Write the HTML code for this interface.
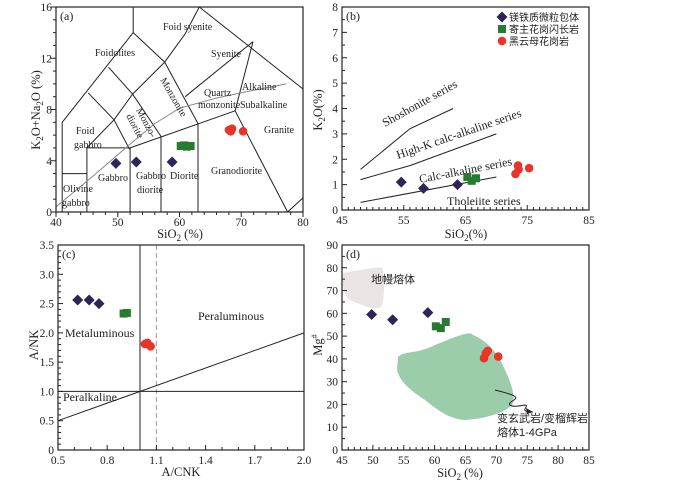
<!DOCTYPE html>
<html><head><meta charset="utf-8">
<style>
html,body{margin:0;padding:0;background:#fff;}
svg{display:block;font-family:"Liberation Serif","Noto Serif CJK SC",serif;}
.cn{font-family:"Liberation Sans","Noto Sans CJK SC",sans-serif;}
</style></head>
<body>
<svg id="fig" width="700" height="485" viewBox="0 0 700 485" xmlns="http://www.w3.org/2000/svg"></svg>
<script>
// ---------- data ----------
const enclaveA_x=[49.7,53,58.8], enclaveA_y=[3.8,3.9,3.9];
const hostA_x=[60.2,60.8,61.2,61.8], hostA_y=[5.15,5.2,5.1,5.15];
const graniteA_x=[68,68.5,68.3,70.3], graniteA_y=[6.4,6.5,6.3,6.3];

const enclaveB_x=[54.6,58.2,63.7], enclaveB_y=[1.1,0.85,1.0];
const hostB_x=[65.3,66,66.7], hostB_y=[1.3,1.15,1.25];
const graniteB_x=[73.1,73.5,73.6,75.3], graniteB_y=[1.42,1.75,1.6,1.65];

const enclaveC_x=[0.62,0.69,0.75], enclaveC_y=[2.56,2.56,2.5];
const hostC_x=[0.9,0.92], hostC_y=[2.33,2.34];
const graniteC_x=[1.03,1.045,1.065], graniteC_y=[1.81,1.83,1.77];

const enclaveD_x=[49.8,53.2,58.9], enclaveD_y=[59.5,57.2,60.3];
const hostD_x=[60.2,61,61.8], hostD_y=[54.3,53.5,56.2];
const graniteD_x=[68,68.3,68.6,70.3], graniteD_y=[40.3,42.5,43.5,41];

const ticksA_x=[40,50,60,70,80], ticksA_y=[0,4,8,12,16];
const ticksB_x=[45,55,65,75,85], ticksB_y=[0,1,2,3,4,5,6,7,8];
const ticksC_x=[0.5,0.8,1.1,1.4,1.7,2.0], ticksC_y=[0,0.5,1.0,1.5,2.0,2.5,3.0,3.5];
const ticksD_x=[45,50,55,60,65,70,75,80,85], ticksD_y=[0,10,20,30,40,50,60,70,80,90];

// ---------- helpers ----------
const NS="http://www.w3.org/2000/svg";
const svg=document.getElementById('fig');
function mk(tag,attrs,parent){const e=document.createElementNS(NS,tag);for(const k in attrs)e.setAttribute(k,attrs[k]);(parent||svg).appendChild(e);return e;}
function axis(x0,x1,px0,px1,y0,y1,py0,py1){return{X:v=>px0+(v-x0)/(x1-x0)*(px1-px0),Y:v=>py0+(v-y0)/(y1-y0)*(py1-py0)};}
function line(ax,pts,stroke,dash){const d=pts.map((p,i)=>(i?'L':'M')+ax.X(p[0]).toFixed(1)+' '+ax.Y(p[1]).toFixed(1)).join(' ');const e=mk('path',{d:d,fill:'none',stroke:stroke||'#222','stroke-width':1,'stroke-dasharray':dash||'none'});return e;}
function text(x,y,s,size,anchor,cls,rot){const e=mk('text',{x:x,y:y,'font-size':size||12,'text-anchor':anchor||'start',fill:'#222'});if(cls)e.setAttribute('class',cls);if(rot!==undefined)e.setAttribute('transform','rotate('+rot+' '+x+' '+y+')');e.innerHTML=s;return e;}
function diamond(x,y){const e=mk('path',{d:`M${x} ${y-5.5}L${x+5.5} ${y}L${x} ${y+5.5}L${x-5.5} ${y}Z`,fill:'#2e2458'});}
function square(x,y){const e=mk('rect',{x:x-4,y:y-4,width:8,height:8,fill:'#277a32'});}
function circ(x,y){const e=mk('circle',{cx:x,cy:y,r:4.3,fill:'#e8352a'});}
function series(ax,ex,ey,hx,hy,gx,gy){ex.forEach((v,i)=>diamond(ax.X(v),ax.Y(ey[i])));hx.forEach((v,i)=>square(ax.X(v),ax.Y(hy[i])));gx.forEach((v,i)=>circ(ax.X(v),ax.Y(gy[i])));}
function frame(px0,py0,px1,py1){const e=mk('rect',{x:px0,y:py0,width:px1-px0,height:py1-py0,fill:'none',stroke:'#222','stroke-width':1.2});}
function ticks(ax,xt,yt,xmin,ymin,xstep,ystep,xr,yr,dir,xfmt,yfmt){
 const bx=ax.Y(yr[0]), lx=ax.X(xr[0]);
 for(let v=xr[0];v<=xr[1]+1e-9;v+=xstep){const major=xt.some(t=>Math.abs(t-v)<1e-6);const len=major?5:3;mk('line',{x1:ax.X(v),x2:ax.X(v),y1:bx,y2:bx+dir*len,stroke:'#222'});}
 for(let v=yr[0];v<=yr[1]+1e-9;v+=ystep){const major=yt.some(t=>Math.abs(t-v)<1e-6);const len=major?5:3;mk('line',{x1:lx,x2:lx-dir*len,y1:ax.Y(v),y2:ax.Y(v),stroke:'#222'});}
 xt.forEach(v=>{const t=text(ax.X(v),bx+14,xfmt(v),11.5,'middle');});
 yt.forEach(v=>{const t=text(lx-4,ax.Y(v)+4,yfmt(v),11.5,'end');});
}

// ---------- Panel (a) TAS ----------
const A=axis(40,80,56,303,0,16,212,7);
const tas=[[[52.5,16],[52.5,14],[41,7],[41,0]],[[52.5,14],[57.6,11.7],[60.9,13.9],[63.2,16]],[[63.2,16],[80,9.6]],
[[71.9,13.3],[60.9,9.0]],[[71.9,13.3],[69,7.9],[77.5,0]],[[57.6,11.7],[63,6.9],[63,0]],[[48.5,11.3],[52.4,9.2],[57,5.9],[57,0]],
[[52.4,9.2],[57.6,11.7]],[[45.2,9.3],[49.4,7.2],[51.9,4.9]],[[45,5],[49.4,7.2]],[[49.4,7.2],[52.4,9.2]],
[[41,3],[45,3]],[[45,0],[45,5],[52,5],[52,0]],[[52,5],[69,7.9]],[[77.5,0],[80,1.1]]];
tas.forEach(p=>line(A,p));
line(A,[[40,0.4],[46,2.8],[52,5.3],[56,6.9],[60,8.1],[66,8.9],[72,9.5],[77.3,10]],'#888');
frame(56,7,303,212);
ticks(A,ticksA_x,ticksA_y,40,0,2,1,[40,80],[0,16],1,v=>v,v=>v);
text(60,20,'(a)',12);
[['Foid syenite',163,30],['Foidolites',95,56],['Syenite',211,57],['Foid',76,134],['gabbro',74,148],['Quartz',204,96],['monzonite',198,108],
['Alkaline',242,90],['Subalkaline',240,108],['Granite',264,133],['Gabbro',98,181],['Gabbro',136,179],['diorite',137,193],['Diorite',170,179],
['Granodiorite',211,174],['Olivine',63,192],['gabbro',62,206]].forEach(a=>text(a[1],a[2],a[0],10));
text(136,110,'Monzo-',10,'start',null,62);text(126,116,'diorite',10,'start',null,62);text(160,80,'Monzonite',10,'start',null,60);
const ayl=text(40,110,'K<tspan font-size="9" dy="3">2</tspan><tspan dy="-3">O+Na</tspan><tspan font-size="9" dy="3">2</tspan><tspan dy="-3">O (%)</tspan>',12.5,'middle',null,-90);

text(180,238,'SiO<tspan font-size="9" dy="3">2</tspan><tspan dy="-3"> (%)</tspan>',12.5,'middle');
series(A,enclaveA_x,enclaveA_y,hostA_x,hostA_y,graniteA_x,graniteA_y);

// ---------- Panel (b) ----------
const B=axis(45,85,342,589,0,8,210,7);
line(B,[[48,1.6],[56,3.2],[63,4]]);line(B,[[48,1.2],[56,1.75],[70,3]]);line(B,[[48,0.3],[70,1.3]]);
frame(342,7,589,210);
ticks(B,ticksB_x,ticksB_y,45,0,1,0.5,[45,85],[0,8],-1,v=>v,v=>v);
text(346,20,'(b)',12);
text(385,127,'Shoshonite series',12,'start',null,-29);
text(398,159,'High-K calc-alkaline series',12,'start',null,-19);
text(420,183,'Calc-alkaline series',12,'start',null,-11);
text(447,205,'Tholeiite series',12);
text(322,110,'K<tspan font-size="9" dy="3">2</tspan><tspan dy="-3">O(%)</tspan>',12.5,'middle',null,-90);
text(466,238,'SiO<tspan font-size="9" dy="3">2</tspan><tspan dy="-3">(%)</tspan>',12.5,'middle');
series(B,enclaveB_x,enclaveB_y,hostB_x,hostB_y,graniteB_x,graniteB_y);
// legend
const lg=mk('g',{});
diamond(502,17);square(502,29);circ(502,41);
text(509,21,'镁铁质微粒包体',10,'start','cn');text(509,33,'寄主花岗闪长岩',10,'start','cn');text(509,45,'黑云母花岗岩',10,'start','cn');

// ---------- Panel (c) ----------
const C=axis(0.5,2.0,58,304,0,3.5,450,245);
line(C,[[1,0],[1,3.5]]);line(C,[[1.1,0],[1.1,3.5]],'#999','5,3');line(C,[[0.5,1],[2,1]]);line(C,[[0.5,0.5],[2,2]]);
frame(58,245,304,450);
ticks(C,ticksC_x,ticksC_y,0.5,0,0.1,0.1,[0.5,2.0],[0,3.5],-1,v=>v.toFixed(1),v=>v===0?'0':v.toFixed(1));
text(62,258,'(c)',12);
text(65,337,'Metaluminous',12);text(198,320,'Peraluminous',12);text(63,401,'Peralkaline',12);
text(38,345,'A/NK',12.5,'middle',null,-90);
text(181,476,'A/CNK',12.5,'middle');
series(C,enclaveC_x,enclaveC_y,hostC_x,hostC_y,graniteC_x,graniteC_y);

// ---------- Panel (d) ----------
const D=axis(45,85,342,589,0,90,450,245);
const f1=mk('path',{d:'M343 273 C360 270 380 266 382 268 C385 275 385 300 381 307 C375 311 365 306 352 301 C345 298 342 290 343 273Z',fill:'#eae4e4'});

const f2=mk('path',{d:'M398 357 C405 350 415 355 435 345 C455 337 470 330 473 335 C485 340 497 350 505 370 C512 385 516 398 512 405 C505 412 490 418 465 420 C450 419 440 412 425 400 C410 390 400 382 397 370Z',fill:'#9ccdab'});

mk('path',{d:'M495 390 C510 394 520 396 514 400 C505 405 510 408 525 405 C530 406 520 410 528 412 L533 412',fill:'none',stroke:'#222'});
mk('path',{d:'M533 412 L526 408 L527 414Z',fill:'#222'});
frame(342,245,589,450);
ticks(D,ticksD_x,ticksD_y,45,0,1,5,[45,85],[0,90],-1,v=>v,v=>v);
text(346,258,'(d)',12);
text(371,283,'地幔熔体',11,'start','cn');
text(497,422,'变玄武岩/变榴辉岩',11,'start','cn');text(497,436,'熔体1-4GPa',11,'start','cn');
text(322,345,'Mg<tspan font-size="8" dy="-5">#</tspan>',12.5,'middle',null,-90);
text(460,477,'SiO<tspan font-size="9" dy="3">2</tspan><tspan dy="-3"> (%)</tspan>',12.5,'middle');
series(D,enclaveD_x,enclaveD_y,hostD_x,hostD_y,graniteD_x,graniteD_y);
</script>
</body></html>
